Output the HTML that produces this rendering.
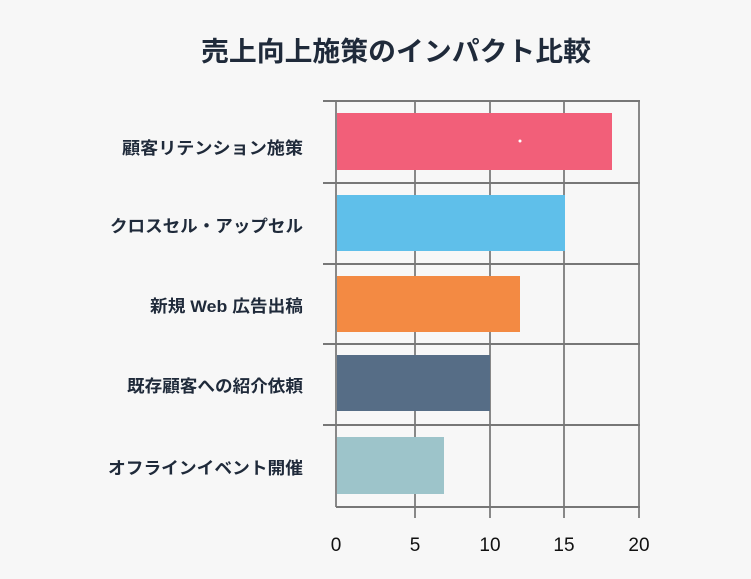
<!DOCTYPE html>
<html><head><meta charset="utf-8"><style>
body{margin:0;background:#f7f7f7;width:751px;height:574px;overflow:hidden}
text{font-family:"Liberation Sans","Noto Sans CJK JP",sans-serif}
</style></head><body>
<svg width="751" height="574" xmlns="http://www.w3.org/2000/svg">
<rect width="751" height="574" fill="#f7f7f7"/>
<text x="201" y="61" textLength="390" lengthAdjust="spacingAndGlyphs" font-size="27" font-weight="bold" fill="#1f2a3a">売上向上施策のインパクト比較</text>
<g stroke="#888" stroke-width="2">
<line x1="336" y1="101" x2="336" y2="507"/>
<line x1="415" y1="101" x2="415" y2="518"/>
<line x1="490" y1="101" x2="490" y2="518"/>
<line x1="564" y1="101" x2="564" y2="518"/>
<line x1="639" y1="101" x2="639" y2="518"/>
</g>
<g stroke="#777" stroke-width="2">
<line x1="323" y1="101" x2="640" y2="101"/>
<line x1="323" y1="183" x2="640" y2="183"/>
<line x1="323" y1="264" x2="640" y2="264"/>
<line x1="323" y1="344" x2="640" y2="344"/>
<line x1="323" y1="425" x2="640" y2="425"/>
<line x1="336" y1="507" x2="640" y2="507"/>
</g>
<rect x="337" y="113" width="275" height="57" fill="#f25f79"/>
<circle cx="520" cy="141" r="1.5" fill="#fff"/>
<rect x="337" y="195" width="228" height="56" fill="#5fbfea"/>
<rect x="337" y="276" width="183" height="56" fill="#f38a43"/>
<rect x="337" y="355" width="153" height="56" fill="#566d86"/>
<rect x="337" y="437" width="107" height="57" fill="#9dc4ca"/>
<g font-size="17" font-weight="bold" fill="#1f2a3a">
<text x="122" y="154" textLength="181" lengthAdjust="spacingAndGlyphs">顧客リテンション施策</text>
<text x="110" y="232" textLength="193" lengthAdjust="spacingAndGlyphs">クロスセル・アップセル</text>
<text x="150" y="312" textLength="153" lengthAdjust="spacingAndGlyphs">新規 Web 広告出稿</text>
<text x="127" y="392" textLength="176" lengthAdjust="spacingAndGlyphs">既存顧客への紹介依頼</text>
<text x="108" y="474" textLength="195" lengthAdjust="spacingAndGlyphs">オフラインイベント開催</text>
</g>
<g font-size="19" fill="#111" text-anchor="middle">
<text x="336" y="551">0</text>
<text x="415" y="551">5</text>
<text x="490" y="551">10</text>
<text x="564" y="551">15</text>
<text x="639" y="551">20</text>
</g>
</svg>
</body></html>
